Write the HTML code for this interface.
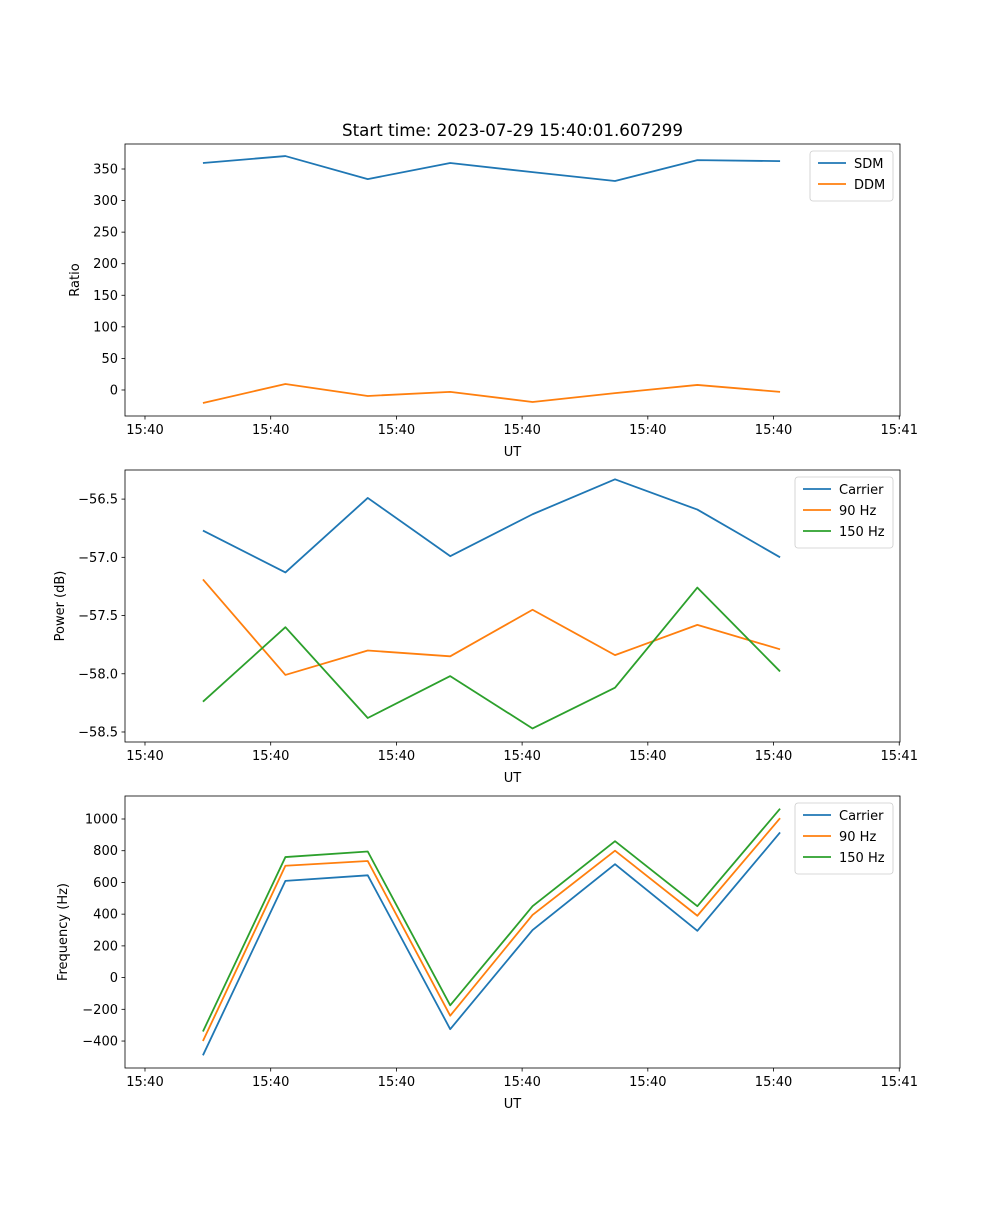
<!DOCTYPE html>
<html><head><meta charset="utf-8"><style>
body{margin:0;background:#fff;font-family:"Liberation Sans","DejaVu Sans",sans-serif;}
svg text{font-family:"DejaVu Sans","Liberation Sans",sans-serif;font-size:13px;fill:#000;}
</style></head><body>
<svg id="fig" width="1000" height="1200" viewBox="0 0 1000 1200"></svg>
<script>
const xLabels = ["15:40","15:40","15:40","15:40","15:40","15:40","15:41"];
const xTicks = [0,10,20,30,40,50,60];
const times = [4.61,11.17,17.72,24.28,30.83,37.39,43.94,50.52];
const sdm = [359.5,370.5,334,359.5,345,331,364,362.5];
const ddm = [-20.6,9.5,-9.5,-3,-19,-5,8,-3];
const pCarrier = [-56.77,-57.13,-56.49,-56.99,-56.63,-56.33,-56.59,-57.0];
const p90 = [-57.19,-58.01,-57.80,-57.85,-57.45,-57.84,-57.58,-57.79];
const p150 = [-58.24,-57.60,-58.38,-58.02,-58.47,-58.12,-57.26,-57.98];
const fCarrier = [-490,610,645,-325,300,715,295,915];
const f90 = [-400,705,735,-240,395,800,390,1005];
const f150 = [-340,760,795,-175,450,860,450,1065];
const yTicks1 = [0,50,100,150,200,250,300,350];
const yTicks2 = [-58.5,-58.0,-57.5,-57.0,-56.5];
const yTicks3 = [-400,-200,0,200,400,600,800,1000];

const NS="http://www.w3.org/2000/svg";
const svg=document.getElementById('fig');
function el(tag,attrs,parent){const e=document.createElementNS(NS,tag);for(const k in attrs)e.setAttribute(k,attrs[k]);(parent||svg).appendChild(e);return e;}
const X0=125,X1=900,xmin=-1.59,xmax=60.06;
const xs=v=>X0+(v-xmin)/(xmax-xmin)*(X1-X0);
const colors=["#1f77b4","#ff7f0e","#2ca02c"];

function panel(name,top,bot,ymin,ymax,ticks,fmt,ylabel,ylabelX,series,names,legX,legW){
  const g=el('g',{});
  
  
  const ys=v=>bot-(v-ymin)/(ymax-ymin)*(bot-top);
  series.forEach((s,i)=>{
    const pts=s.map((v,j)=>xs(times[j]).toFixed(2)+','+ys(v).toFixed(2)).join(' ');
    const pl=el('polyline',{points:pts,fill:'none',stroke:colors[i],'stroke-width':1.8,'stroke-linejoin':'round'},g);
    
    
  });
  const fr=el('rect',{x:X0,y:top,width:X1-X0,height:bot-top,fill:'none',stroke:'#000','stroke-width':0.8},g);
  
  
  xTicks.forEach((t,i)=>{
    const x=xs(t);
    el('line',{x1:x,y1:bot,x2:x,y2:bot+3.5,stroke:'#000','stroke-width':0.8},g);
    const tx=el('text',{x:x,y:bot+18,'text-anchor':'middle'},g);tx.textContent=xLabels[i];
    
    
  });
  const xl=el('text',{x:(X0+X1)/2,y:bot+40,'text-anchor':'middle'},g);xl.textContent='UT';
  
  
  ticks.forEach(t=>{
    const y=ys(t);
    el('line',{x1:X0-3.5,y1:y,x2:X0,y2:y,stroke:'#000','stroke-width':0.8},g);
    const tx=el('text',{x:X0-7,y:y+4.5,'text-anchor':'end'},g);tx.textContent=fmt(t);
    
    
  });
  const yl=el('text',{x:ylabelX,y:(top+bot)/2,'text-anchor':'middle',transform:`rotate(-90 ${ylabelX} ${(top+bot)/2})`},g);yl.textContent=ylabel;
  
  
  const lg=el('g',{},g);
  
  
  const lh=8+names.length*21;
  el('rect',{x:legX,y:top+7,width:legW,height:lh,rx:3,fill:'#fff','fill-opacity':0.8,stroke:'#ccc','stroke-width':0.8},lg);
  names.forEach((n,i)=>{
    const y=top+19+i*21;
    el('line',{x1:legX+8,y1:y,x2:legX+36,y2:y,stroke:colors[i],'stroke-width':1.8},lg);
    const t=el('text',{x:legX+44,y:y+5},lg);t.textContent=n;
    
    
  });
}
const minus=s=>s.replace('-','\u2212');
panel('ratio-panel',144,416,-41.2,389.6,yTicks1,t=>minus(String(t)),'Ratio',79,[sdm,ddm],['SDM','DDM'],810,83);
panel('power-panel',470,742,-58.586,-56.25,yTicks2,t=>minus(t.toFixed(1)),'Power (dB)',64,[pCarrier,p90,p150],['Carrier','90 Hz','150 Hz'],795,98);
panel('frequency-panel',796,1068,-570,1145,yTicks3,t=>minus(String(t)),'Frequency (Hz)',67,[fCarrier,f90,f150],['Carrier','90 Hz','150 Hz'],795,98);
const title=el('text',{x:512.5,y:136,'text-anchor':'middle'});
title.style.fontSize='16.7px';
title.textContent='Start time: 2023-07-29 15:40:01.607299';


</script>
</body></html>
